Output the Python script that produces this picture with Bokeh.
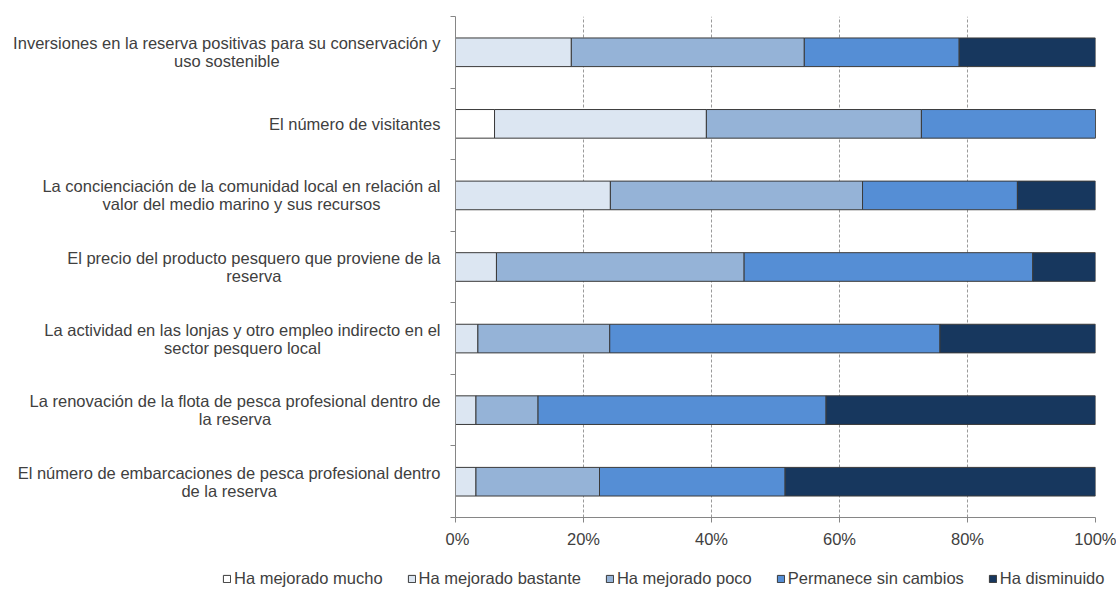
from bokeh.plotting import figure
from bokeh.layouts import row, column
from bokeh.models import ColumnDataSource, Range1d, FixedTicker, Legend, LegendItem
from bokeh.core.properties import value
from bokeh.embed import file_html
from bokeh.resources import INLINE

# ---------------- data ----------------
categories = [
    "Inversiones en la reserva positivas para su conservación y\nuso sostenible",
    "El número de visitantes",
    "La concienciación de la comunidad local en relación al\nvalor del medio marino y sus recursos",
    "El precio del producto pesquero que proviene de la\nreserva",
    "La actividad en las lonjas y otro empleo indirecto en el\nsector pesquero local",
    "La renovación de la flota de pesca profesional dentro de\nla reserva",
    "El número de embarcaciones de pesca profesional dentro\nde la reserva",
]
series_names = ["Ha mejorado mucho", "Ha mejorado bastante", "Ha mejorado poco",
                "Permanece sin cambios", "Ha disminuido"]
mucho = [0.0, 6.1, 0.0, 0.0, 0.0, 0.0, 0.0]
bastante = [18.1, 33.1, 24.2, 6.4, 3.5, 3.2, 3.2]
poco = [36.4, 33.6, 39.4, 38.7, 20.6, 9.7, 19.3]
permanece = [24.2, 27.2, 24.2, 45.1, 51.6, 45.0, 29.0]
disminuido = [21.3, 0.0, 12.2, 9.8, 24.3, 42.1, 48.5]
tick_values = [0, 20, 40, 60, 80, 100]
tick_labels = ["0%", "20%", "40%", "60%", "80%", "100%"]

colors = ["#FFFFFF", "#DCE6F2", "#95B3D7", "#558ED5", "#17375E"]
FONT = "Liberation Sans"
FS = 16.5
TXT = "#404040"
AXC = "#868686"
EDGE = "#3a3a3a"

# Arial / Liberation Sans advance widths (1/1000 em)
W = {' ': 278, 'a': 556, 'b': 556, 'c': 500, 'd': 556, 'e': 556, 'f': 278, 'g': 556,
     'h': 556, 'i': 222, 'j': 222, 'k': 500, 'l': 222, 'm': 833, 'n': 556, 'o': 556,
     'p': 556, 'q': 556, 'r': 333, 's': 500, 't': 278, 'u': 556, 'v': 500, 'w': 722,
     'x': 500, 'y': 500, 'z': 500, 'á': 556, 'é': 556, 'í': 278, 'ó': 556, 'ú': 556,
     'ñ': 556, 'E': 667, 'I': 278, 'L': 556}


def text_width(s):
    return sum(W.get(ch, 556) for ch in s) / 1000.0 * FS


n = len(categories)
ypos = [n - 0.5 - i for i in range(n)]
yr = Range1d(0, n)

TOP = 16
BOTTOM = 32
MAIN_H = 550
LABEL_W = 445

# ---------------- main chart ----------------
source = ColumnDataSource(dict(y=ypos, mucho=mucho, bastante=bastante, poco=poco,
                               permanece=permanece, disminuido=disminuido))

p = figure(width=1116 - LABEL_W, height=MAIN_H, output_backend="svg",
           toolbar_location=None, x_range=Range1d(0, 100), y_range=yr,
           min_border_left=10, min_border_right=21, min_border_top=TOP,
           min_border_bottom=BOTTOM)
p.outline_line_color = None

keys = ["mucho", "bastante", "poco", "permanece", "disminuido"]
renderers = p.hbar_stack(keys, y="y", height=0.4, source=source, color=colors,
                         line_color=EDGE, line_width=1)

p.xaxis.ticker = FixedTicker(ticks=tick_values, minor_ticks=[])
p.xaxis.major_label_overrides = {v: l for v, l in zip(tick_values, tick_labels)}
p.xaxis.axis_line_color = AXC
p.xaxis.major_tick_line_color = AXC
p.xaxis.major_tick_out = 5
p.xaxis.major_tick_in = 0
p.xaxis.minor_tick_line_color = None
p.xaxis.major_label_standoff = 7
p.xaxis.major_label_text_font = FONT
p.xaxis.major_label_text_font_size = f"{FS}px"
p.xaxis.major_label_text_color = TXT

# y axis: only boundary ticks between categories, no labels
p.yaxis.ticker = FixedTicker(ticks=[], minor_ticks=list(range(n + 1)))
p.yaxis.axis_line_color = AXC
p.yaxis.minor_tick_line_color = AXC
p.yaxis.minor_tick_out = 5
p.yaxis.minor_tick_in = 0
p.yaxis.major_tick_line_color = None

p.xgrid.grid_line_color = "#9a9a9a"
p.xgrid.grid_line_dash = "3 2"
p.xgrid.grid_line_width = 1
p.ygrid.grid_line_color = None

# ---------------- category labels ----------------
pl = figure(width=LABEL_W, height=MAIN_H, output_backend="svg", toolbar_location=None,
            x_range=Range1d(0, LABEL_W), y_range=yr, x_axis_type=None,
            y_axis_type=None, min_border_left=0, min_border_right=0,
            min_border_top=TOP, min_border_bottom=BOTTOM)
pl.outline_line_color = None
pl.grid.grid_line_color = None

RIGHT = LABEL_W - 5
l1_x, l1_y, l1_t, l1_dy = [], [], [], []
l2_x, l2_y, l2_t = [], [], []
for y, cat in zip(ypos, categories):
    parts = cat.split("\n")
    l1_x.append(RIGHT); l1_y.append(y); l1_t.append(parts[0])
    if len(parts) == 1:
        l1_dy.append(0)
    else:
        l1_dy.append(-9)
        l2_x.append(RIGHT - text_width(parts[0]) / 2.0)
        l2_y.append(y); l2_t.append(parts[1])

pl.text(x="x", y="y", text="text", y_offset="dy",
        source=ColumnDataSource(dict(x=l1_x, y=l1_y, text=l1_t, dy=l1_dy)),
        text_align="right", text_baseline="middle", text_font=value(FONT),
        text_font_size=value(f"{FS}px"), text_color=TXT)
pl.text(x="x", y="y", text="text", y_offset=9,
        source=ColumnDataSource(dict(x=l2_x, y=l2_y, text=l2_t)),
        text_align="center", text_baseline="middle", text_font=value(FONT),
        text_font_size=value(f"{FS}px"), text_color=TXT)

# ---------------- legend ----------------
LEG_H = 589 - MAIN_H
pg = figure(width=1116, height=LEG_H, output_backend="svg", toolbar_location=None,
            x_range=Range1d(0, 1), y_range=Range1d(0, 1), x_axis_type=None,
            y_axis_type=None, min_border=0)
pg.outline_line_color = None
pg.grid.grid_line_color = None
dummies = [pg.hbar(y=[-10], right=[1], height=0.5, fill_color=c, line_color=EDGE,
                   line_width=1) for c in colors]
legend = Legend(items=[LegendItem(label=nm, renderers=[r])
                       for nm, r in zip(series_names, dummies)],
                orientation="horizontal", location=(222, 1),
                glyph_width=9, glyph_height=9, label_standoff=3, spacing=24,
                padding=0, margin=0, border_line_color=None,
                background_fill_alpha=0, label_text_font=FONT,
                label_text_font_size=f"{FS}px", label_text_color=TXT,
                label_height=16)
pg.add_layout(legend)

layout = column(row(pl, p, spacing=0), pg, spacing=0)
open("out.html", "w").write(file_html(layout, INLINE))
